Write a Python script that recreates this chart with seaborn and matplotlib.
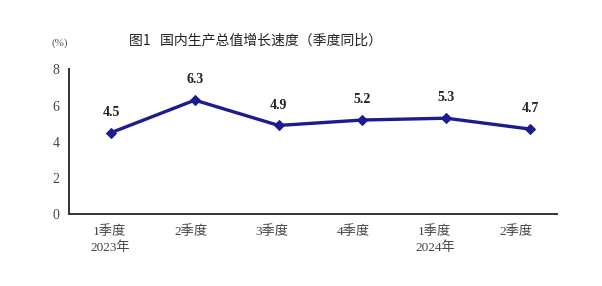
import matplotlib
matplotlib.use("Agg")
import matplotlib.pyplot as plt
import seaborn as sns
import numpy as np
import pandas as pd

quarters = ["1季度\n2023年", "2季度", "3季度", "4季度", "1季度\n2024年", "2季度"]
growth = [4.5, 6.3, 4.9, 5.2, 5.3, 4.7]
yticks = [0, 2, 4, 6, 8]
title = "图1   国内生产总值增长速度（季度同比）"
unit = "(%)"

sns.set_theme(style="white")
plt.rcParams['font.family'] = ['Liberation Serif', 'Noto Sans CJK SC', 'DejaVu Sans']

df = pd.DataFrame({"pos": np.arange(len(growth)), "val": growth})

fig = plt.figure(figsize=(6.02, 2.86), dpi=100)
ax = fig.add_axes([0.1151, 0.2517, 0.8096, 0.5056])

line_color = "#1c1c8e"
sns.lineplot(data=df, x="pos", y="val", ax=ax, color=line_color, linewidth=2.4,
             marker="D", markersize=5.5, markeredgecolor=line_color)

xmin, xmax = -0.498, 5.318
ax.set_xlim(xmin, xmax)
ax.set_ylim(0, 8)

n = len(quarters)
band = (xmax - xmin) / n
bounds = [xmin + band * k for k in range(1, n + 1)]
centers = [xmin + band * (k + 0.5) for k in range(n)]

ax.set_xticks(bounds)
ax.set_xticklabels([])
ax.set_xticks(centers, minor=True)
ax.set_xticklabels(quarters, minor=True, fontsize=9.5, color="#444444",
                   linespacing=1.35)
ax.tick_params(axis="x", which="major", direction="in", length=4, width=1.2,
               color="#333333")
ax.tick_params(axis="x", which="minor", length=0, pad=8)

ax.set_yticks(yticks)
ax.set_yticklabels([str(v) for v in yticks], fontsize=10, color="#444444")
ax.tick_params(axis="y", direction="in", length=3, width=1.2, color="#333333", pad=7)

for side in ["top", "right"]:
    ax.spines[side].set_visible(False)
for side in ["left", "bottom"]:
    ax.spines[side].set_color("#333333")
    ax.spines[side].set_linewidth(1.4)

ax.set_xlabel("")
ax.set_ylabel("")
ax.grid(False)

for x, y in zip(df["pos"], df["val"]):
    ax.annotate(f"{y:.1f}", (x, y), xytext=(0, 10), textcoords="offset points",
                ha="center", va="bottom", fontsize=10, fontweight="bold",
                color="#222222")

fig.text(0.424, 0.858, title, ha="center", va="center", fontsize=10,
         family=["Noto Sans CJK SC", "DejaVu Sans"], color="#222222")
fig.text(0.1, 0.85, unit, ha="center", va="center", fontsize=8, color="#555555")

fig.savefig("out.png", dpi=100)
